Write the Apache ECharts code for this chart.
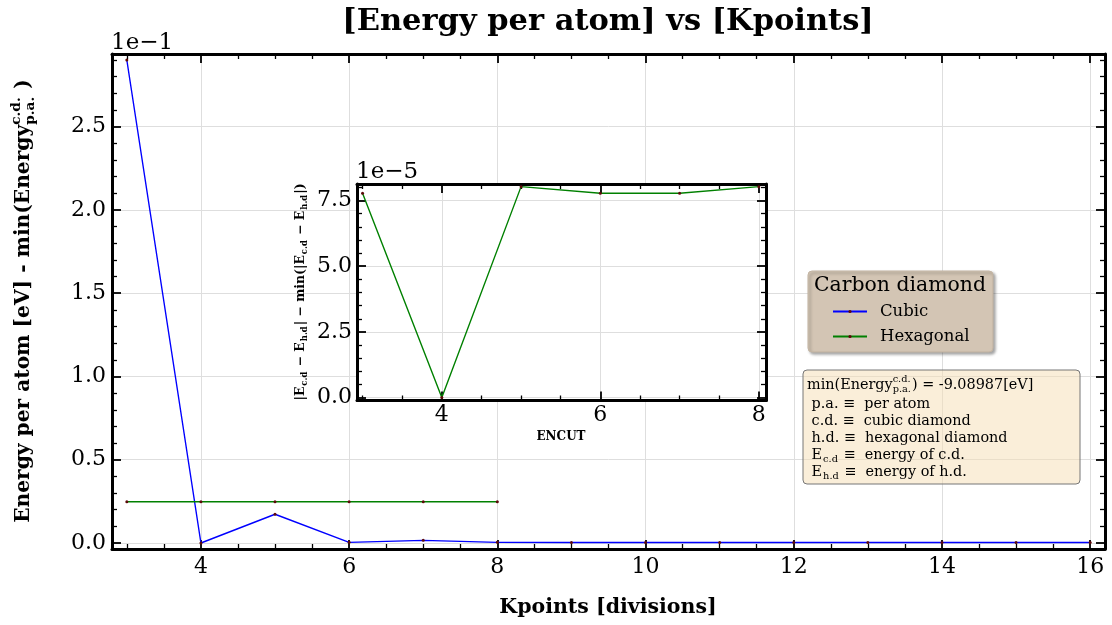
<!DOCTYPE html>
<html>
<head>
<meta charset="utf-8">
<title>Energy per atom vs Kpoints</title>
<script src="https://cdn.jsdelivr.net/npm/echarts@6/dist/echarts.min.js"></script>
<style>
  html, body { margin: 0; padding: 0; background: #fff; }
  #chart { width: 1112px; height: 625px; }
</style>
</head>
<body>
<div id="chart"></div>
<script>
// ---- data -------------------------------------------------------------
// k-point divisions
const kpoints = [3, 4, 5, 6, 7, 8, 9, 10, 11, 12, 13, 14, 15, 16];
// cubic diamond: E_pa - min(E_pa) in eV
const cubicValues = [0.2900, 0.0000, 0.01725, 0.0004, 0.0016, 0.0004, 0.0003, 0.0003, 0.0003, 0.0003, 0.0003, 0.0003, 0.0003, 0.0003];
// hexagonal diamond: E_pa - min(E_pa(c.d.)) in eV
const hexKpoints = [3, 4, 5, 6, 7, 8];
const hexValues = [0.0248, 0.0248, 0.0248, 0.0248, 0.0248, 0.0248];
// inset: |E_cd - E_hd| - min(|E_cd - E_hd|)
const insetX = [3, 4, 5, 6, 7, 8];
const insetValues = [7.78e-5, 0.0, 8.03e-5, 7.78e-5, 7.78e-5, 8.03e-5];

// tick labels
const mainXTicks = [4, 6, 8, 10, 12, 14, 16];
const mainYTicks = [0, 0.05, 0.10, 0.15, 0.20, 0.25];
const insetXTicks = [4, 6, 8];
const insetYTicks = [0, 2.5e-5, 5e-5, 7.5e-5];

const minEnergy = '-9.08987';

// ---- helpers ----------------------------------------------------------
const SERIF = '"DejaVu Serif", serif';
const mctx = document.createElement('canvas').getContext('2d');
function measure(t, size, weight) {
  mctx.font = (weight || 'normal') + ' ' + size + 'px ' + SERIF;
  return mctx.measureText(t).width;
}
function txt(t, x, y, size, weight, z) {
  return {
    type: 'text', x: x, y: y, z: z || 0,
    style: { text: t, fontSize: size, fontFamily: SERIF, fontWeight: weight || 'normal',
             fill: '#000', align: 'left', verticalAlign: 'middle' }
  };
}
// lays out a row of text with stacked super/subscripts
function mathRow(parts, size, weight, z) {
  const kids = [];
  let x = 0;
  const s = size * 0.68;
  parts.forEach(p => {
    if (typeof p === 'string') {
      kids.push(txt(p, x, 0, size, weight, z));
      x += measure(p, size, weight);
    } else {
      let w = 0;
      if (p.sup) { kids.push(txt(p.sup, x, -size * 0.36, s, weight, z)); w = Math.max(w, measure(p.sup, s, weight)); }
      if (p.sub) { kids.push(txt(p.sub, x + (p.sup ? 0 : 1), size * 0.30, s, weight, z)); w = Math.max(w, measure(p.sub, s, weight) + (p.sup ? 0 : 1)); }
      x += w + 1;
    }
  });
  return { kids: kids, width: x };
}
function range(a, b, step, skip) {
  const out = [];
  for (let v = a; v <= b + 1e-12; v += step) {
    const r = Math.round(v * 1e9) / 1e9;
    if (!skip || !skip.some(m => Math.abs(m - r) < 1e-12)) out.push(r);
  }
  return out;
}

// ---- axes ---------------------------------------------------------------
function axisSet(kind, grid, min, max, major, minor, opts) {
  const axes = [];
  const sides = kind === 'x' ? ['bottom', 'top'] : ['left', 'right'];
  sides.forEach((pos, i) => {
    // major ticks (+ labels / grid lines on the primary side)
    axes.push({
      type: 'value', gridIndex: grid, position: pos, min: min, max: max,
      axisLine: { show: true, onZero: false, lineStyle: { color: '#000', width: 3 } },
      axisTick: { show: true, inside: true, length: opts.majorLen, customValues: major,
                  lineStyle: { color: '#000', width: 1.8 } },
      axisLabel: {
        show: i === 0, customValues: major, margin: opts.margin,
        fontFamily: SERIF, fontSize: opts.fontSize, color: '#000',
        formatter: v => (v / opts.scale).toFixed(opts.digits)
      },
      splitLine: { show: i === 0, lineStyle: { color: '#dedede', width: 1 } },
      z: opts.z
    });
    // minor ticks
    axes.push({
      type: 'value', gridIndex: grid, position: pos, min: min, max: max,
      axisLine: { show: false, onZero: false },
      axisTick: { show: true, inside: true, length: opts.minorLen, customValues: minor,
                  lineStyle: { color: '#000', width: 1.3 } },
      axisLabel: { show: false },
      splitLine: { show: false },
      z: opts.z
    });
  });
  return axes;
}

const mainXMinor = range(3, 16, 0.5, mainXTicks);
const mainYMinor = range(0, 0.29, 0.01, mainYTicks);
const insetXMinor = range(3, 8, 0.5, insetXTicks);
const insetYMinor = range(0, 8e-5, 0.5e-5, insetYTicks);

const xAxes = [].concat(
  axisSet('x', 0, 2.80, 16.2, mainXTicks, mainXMinor,
          { majorLen: 9, minorLen: 5, margin: 7, fontSize: 22, scale: 1, digits: 0, z: 1 }),
  axisSet('x', 1, 2.93, 8.09, insetXTicks, insetXMinor,
          { majorLen: 9, minorLen: 5, margin: 4, fontSize: 22, scale: 1, digits: 0, z: 6 })
);
const yAxes = [].concat(
  axisSet('y', 0, -0.0036, 0.2936, mainYTicks, mainYMinor,
          { majorLen: 9, minorLen: 5, margin: 6, fontSize: 22, scale: 0.1, digits: 1, z: 1 }),
  axisSet('y', 1, -0.11e-5, 8.13e-5, insetYTicks, insetYMinor,
          { majorLen: 9, minorLen: 5, margin: 5, fontSize: 22, scale: 1e-5, digits: 1, z: 6 })
);

// ---- annotations -----------------------------------------------------------
const graphics = [];

// title
graphics.push({
  type: 'text', x: 608, y: 22,
  style: { text: '[Energy per atom] vs [Kpoints]', fontSize: 30.5, fontWeight: 'bold',
           fontFamily: SERIF, fill: '#000', align: 'center', verticalAlign: 'middle' }
});
// x axis name
graphics.push({
  type: 'text', x: 608, y: 608,
  style: { text: 'Kpoints [divisions]', fontSize: 20.5, fontWeight: 'bold',
           fontFamily: SERIF, fill: '#000', align: 'center', verticalAlign: 'middle' }
});
// y axis name (rotated)
(function () {
  const row = mathRow(['Energy per atom [eV] - min(Energy', { sup: 'c.d.', sub: 'p.a.' }, ' )'], 20.2, 'bold');
  row.kids.forEach(k => { k.x -= row.width / 2; });
  graphics.push({ type: 'group', x: 24, y: 301, rotation: Math.PI / 2, children: row.kids });
})();
// offset text
graphics.push({
  type: 'text', x: 111, y: 43,
  style: { text: '1e\u22121', fontSize: 23, fontFamily: SERIF, fill: '#000', align: 'left', verticalAlign: 'middle' }
});
graphics.push({
  type: 'text', x: 356, y: 172, z: 10,
  style: { text: '1e\u22125', fontSize: 23, fontFamily: SERIF, fill: '#000', align: 'left', verticalAlign: 'middle' }
});
// inset axis names
graphics.push({
  type: 'text', x: 561, y: 437, z: 10,
  style: { text: 'ENCUT', fontSize: 12, fontWeight: 'bold', fontFamily: SERIF, fill: '#000',
           align: 'center', verticalAlign: 'middle' }
});
(function () {
  const row = mathRow(['|E', { sub: 'c.d' }, ' \u2212 E', { sub: 'h.d' }, '| \u2212 min(|E', { sub: 'c.d' },
                       ' \u2212 E', { sub: 'h.d' }, '|)'], 12.4, 'bold', 10);
  row.kids.forEach(k => { k.x -= row.width / 2; });
  graphics.push({ type: 'group', x: 301, y: 292, rotation: Math.PI / 2, children: row.kids });
})();

// legend frame + title
graphics.push({
  type: 'rect', z: 20,
  shape: { x: 808, y: 271, width: 185, height: 81, r: 4 },
  style: { fill: '#d3c5b4', stroke: '#c4b5a3', lineWidth: 1,
           shadowBlur: 3, shadowOffsetX: 2, shadowOffsetY: 2, shadowColor: 'rgba(0,0,0,0.35)' }
});
graphics.push({
  type: 'text', x: 900, y: 286, z: 21,
  style: { text: 'Carbon diamond', fontSize: 20.4, fontFamily: SERIF, fill: '#000',
           align: 'center', verticalAlign: 'middle' }
});

// info box
graphics.push({
  type: 'rect', z: 20,
  shape: { x: 803, y: 370, width: 277, height: 114, r: 4 },
  style: { fill: 'rgba(245,222,179,0.5)', stroke: '#777', lineWidth: 1 }
});
(function () {
  const lines = [
    { y: 385, parts: ['min(Energy', { sup: 'c.d.', sub: 'p.a.' }, ') = ' + minEnergy + '[eV]'] },
    { y: 404, parts: [' p.a. \u2261  per atom'] },
    { y: 421, parts: [' c.d. \u2261  cubic diamond'] },
    { y: 438, parts: [' h.d. \u2261  hexagonal diamond'] },
    { y: 455, parts: [' E', { sub: 'c.d' }, ' \u2261  energy of c.d.'] },
    { y: 472, parts: [' E', { sub: 'h.d' }, ' \u2261  energy of h.d.'] }
  ];
  lines.forEach(l => {
    const row = mathRow(l.parts, 14.4, 'normal', 21);
    graphics.push({ type: 'group', x: 807, y: l.y, children: row.kids });
  });
})();

// ---- chart ------------------------------------------------------------------
const markerColor = '#5c0a0a';
function lineSeries(name, xs, ys, color, xi, yi, z) {
  return {
    name: name, type: 'line', xAxisIndex: xi, yAxisIndex: yi,
    data: xs.map((x, i) => [x, ys[i]]),
    symbol: 'circle', symbolSize: 3, showSymbol: true,
    lineStyle: { color: color, width: 1.4 },
    itemStyle: { color: markerColor, borderWidth: 0 },
    emphasis: { disabled: true },
    animation: false, z: z, clip: true
  };
}

const chart = echarts.init(document.getElementById('chart'), null, { renderer: 'canvas' });
chart.setOption({
  backgroundColor: '#fff',
  animation: false,
  textStyle: { fontFamily: SERIF },
  grid: [
    { left: 112, right: 7, top: 54, bottom: 76, containLabel: false, z: 0 },
    { left: 357, right: 346, top: 184, bottom: 224.5, containLabel: false,
      show: true, backgroundColor: '#fff', borderWidth: 0, z: 5 }
  ],
  xAxis: xAxes,
  yAxis: yAxes,
  legend: {
    data: ['Cubic', 'Hexagonal'],
    orient: 'vertical', left: 832, top: 303, z: 22, padding: 0,
    itemWidth: 34, itemHeight: 4, itemGap: 8,
    textStyle: { fontFamily: SERIF, fontSize: 16.5, color: '#000', lineHeight: 16, padding: [0, 0, 0, 8] },
    selectedMode: false
  },
  series: [
    lineSeries('Cubic', kpoints, cubicValues, '#0000ff', 0, 0, 2),
    lineSeries('Hexagonal', hexKpoints, hexValues, '#008000', 0, 0, 2),
    lineSeries('Hexagonal', insetX, insetValues, '#008000', 4, 4, 8)
  ],
  graphic: graphics
});
</script>
</body>
</html>
